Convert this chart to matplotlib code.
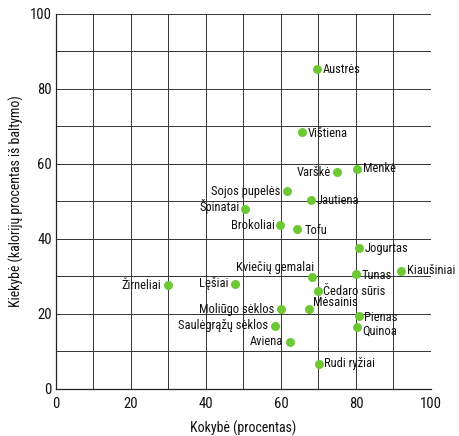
#!/usr/bin/env python

import matplotlib
matplotlib.use("Agg")
import matplotlib.pyplot as plt

# food names, quality (x, %) and quantity (y, % of calories from protein)
foods = ["Austrės", "Vištiena", "Varškė", "Menkė", "Sojos pupelės",
         "Jautiena", "Špinatai", "Brokoliai", "Tofu", "Jogurtas",
         "Kviečių gemalai", "Tunas", "Kiaušiniai", "Žirneliai", "Lęšiai",
         "Čedaro sūris", "Mėsainis", "Moliūgo sėklos", "Pienas", "Quinoa",
         "Saulėgrąžų sėklos", "Aviena", "Rudi ryžiai"]
quality = [69.7, 65.7, 74.9, 80.3, 61.7,
           68.0, 50.4, 59.8, 64.4, 80.8,
           68.4, 79.9, 92.0, 29.9, 47.8,
           69.8, 67.5, 60.1, 80.7, 80.3,
           58.5, 62.4, 70.1]
quantity = [85.3, 68.4, 57.8, 58.7, 52.7,
            50.3, 48.1, 43.6, 42.6, 37.5,
            29.9, 30.7, 31.5, 27.7, 28.0,
            26.1, 21.3, 21.3, 19.5, 16.5,
            16.8, 12.6, 6.7]

# label placement: offset in points, horizontal alignment
label_pos = {
    "Varškė": ((-4, 0), "right"),
    "Sojos pupelės": ((-5, 0), "right"),
    "Špinatai": ((-4, 1.5), "right"),
    "Brokoliai": ((-4, 0), "right"),
    "Kviečių gemalai": ((1, 6.5), "right"),
    "Žirneliai": ((-5, 0), "right"),
    "Lęšiai": ((-5, 0), "right"),
    "Moliūgo sėklos": ((-5, 0), "right"),
    "Saulėgrąžų sėklos": ((-5, 0), "right"),
    "Aviena": ((-5, 0), "right"),
    "Mėsainis": ((3, 4.5), "left"),
    "Tunas": ((4, -1.5), "left"),
    "Pienas": ((4, -1), "left"),
    "Quinoa": ((4, -3), "left"),
    "Čedaro sūris": ((4, 0), "left"),
    "Vištiena": ((4, -1), "left"),
    "Jautiena": ((4, 0), "left"),
    "Tofu": ((5, -1), "left"),
}

plt.rcParams["font.family"] = ["Liberation Sans Narrow", "DejaVu Sans Condensed",
                               "Roboto Condensed", "Roboto", "DejaVu Sans"]


def main():
    fig = plt.figure(figsize=(4.6, 4.36), dpi=100)
    ax = fig.add_axes([0.1217, 0.1078, 0.8152, 0.8601])

    ax.scatter(quality, quantity, s=42, color="#6cc934", zorder=3,
               linewidths=0, clip_on=False)

    for name, x, y in zip(foods, quality, quantity):
        (dx, dy), ha = label_pos.get(name, ((4, 0), "left"))
        ax.annotate(name, (x, y), xytext=(dx, dy), textcoords="offset points",
                    ha=ha, va="center", fontsize=9, color="#111111",
                    zorder=4)

    ax.set_xlim(0, 100)
    ax.set_ylim(0, 100)
    ax.set_xticks(range(0, 101, 20))
    ax.set_yticks(range(0, 101, 20))
    ax.set_xticks(range(0, 101, 10), minor=True)
    ax.set_yticks(range(0, 101, 10), minor=True)
    ax.grid(True, which="both", color="#333333", linewidth=0.7)
    ax.tick_params(which="both", length=0, labelsize=10.5, colors="#111111")
    ax.tick_params(axis="x", pad=6)
    ax.tick_params(axis="y", pad=3)
    for sp in ax.spines.values():
        sp.set_linewidth(0.9)
        sp.set_color("#222222")
    ax.spines["top"].set_visible(False)
    ax.spines["right"].set_visible(False)

    ax.set_xlabel("Kokybė (procentas)", fontsize=10, color="#111111",
                  labelpad=7)
    ax.set_ylabel("Kiekybė (kalorijų procentas iš baltymo)", fontsize=10,
                  color="#111111")

    fig.savefig("out.png", dpi=100)


if __name__ == "__main__":
    main()
